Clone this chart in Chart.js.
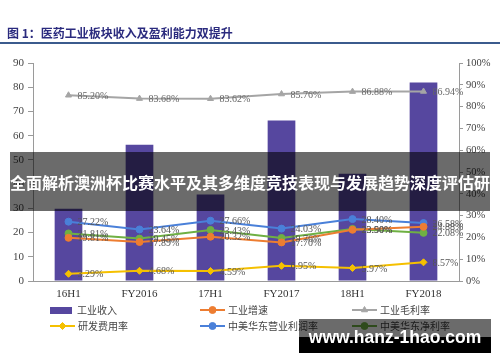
<!DOCTYPE html>
<html>
<head>
<meta charset="utf-8">
<script src="https://cdn.jsdelivr.net/npm/chart.js@4.4.0/dist/chart.umd.min.js"></script>
<style>
html, body { margin: 0; padding: 0; background: #fff; }
#wrap { position: relative; width: 500px; height: 362px; overflow: hidden; }
#myChart { position: absolute; left: 0; top: 0; }
#title { position: absolute; left: 7px; top: 24px; font: bold 12px "Noto Sans CJK SC"; color: #2a2a7e; white-space: nowrap; }
#rule { position: absolute; left: 0; top: 42px; width: 500px; height: 2px; background: #3b5b8d; }
#banner { position: absolute; left: 10px; top: 152px; width: 480px; height: 59px; background: rgba(0,0,0,0.58);
  color: #fff; font: bold 16px "Noto Sans CJK SC"; line-height: 61px; white-space: nowrap; overflow: hidden; }
#mark { position: absolute; left: 299px; top: 319px; width: 192px; height: 34px;
  background: linear-gradient(to bottom, rgba(0,0,0,0.58) 0, rgba(0,0,0,0.58) 52%, #000 52%, #000 100%);
  color: #fff; font: bold 17.5px "Liberation Sans"; line-height: 36px; text-align: center; white-space: nowrap; }
</style>
</head>
<body>
<div id="wrap">
  <canvas id="myChart" width="500" height="362"></canvas>
  <div id="title">图 1：医药工业板块收入及盈利能力双提升</div>
  <div id="rule"></div>
  <div id="banner">全面解析澳洲杯比赛水平及其多维度竞技表现与发展趋势深度评估研</div>
  <div id="mark">www.hanz-1hao.com</div>
</div>
<script>
const categories = ['16H1', 'FY2016', '17H1', 'FY2017', '18H1', 'FY2018'];
const revenue = [29.8, 56.3, 35.7, 66.3, 44.3, 82.0];        // 工业收入, left axis
const growth = [19.81, 17.89, 20.32, 17.70, 23.50, 24.88];    // 工业增速, %
const grossMargin = [85.20, 83.68, 83.62, 85.76, 86.88, 86.94];
const rdRatio = [3.29, 4.68, 4.59, 6.95, 5.97, 8.57];
const opMargin = [27.22, 23.64, 27.66, 24.03, 28.40, 26.58];
const netMargin = [21.81, 19.45, 23.43, 19.76, 23.90, 22.08];
const leftMax = 90;
const rightMax = 100;

const serif = 'Liberation Serif';

// labels to the right of every line point
const pointLabels = {
	id: 'pointLabels',
	afterDatasetsDraw: (chart) => {
		const ctx = chart.ctx;
		ctx.save();
		ctx.font = '10px "' + serif + '"';
		ctx.textBaseline = 'middle';
		chart.data.datasets.forEach((ds, i) => {
			if (ds.type !== 'line') return;
			ctx.fillStyle = ds.labelColor;
			chart.getDatasetMeta(i).data.forEach((pt, j) => {
				ctx.fillText(ds.data[j].toFixed(2) + '%', pt.x + 9, pt.y + 1);
			});
		});
		ctx.restore();
	}
};

// legend in 3 columns x 2 rows
const legendCols = [50, 200, 352];
const legendRows = [310, 326];
const gridLegend = {
	id: 'gridLegend',
	afterDraw: (chart) => {
		const ctx = chart.ctx;
		ctx.save();
		chart.data.datasets.forEach((ds, i) => {
			const x = legendCols[i % 3];
			const y = legendRows[Math.floor(i / 3)];
			let tx;
			if (ds.type === 'bar') {
				ctx.fillStyle = ds.backgroundColor;
				ctx.fillRect(x, y - 3, 22, 7);
				tx = x + 27;
			} else {
				ctx.strokeStyle = ds.borderColor;
				ctx.lineWidth = 2;
				ctx.beginPath();
				ctx.moveTo(x, y);
				ctx.lineTo(x + 25, y);
				ctx.stroke();
				ctx.fillStyle = ds.borderColor;
				ctx.lineWidth = 1;
				Chart.helpers.drawPoint(ctx, {pointStyle: ds.pointStyle, radius: 3.5, borderWidth: 1, rotation: 0}, x + 12.5, y);
				tx = x + 28;
			}
			ctx.fillStyle = '#444';
			ctx.font = '10px "Noto Sans CJK SC"';
			ctx.textBaseline = 'middle';
			ctx.fillText(ds.label, tx, y);
		});
		ctx.restore();
	}
};

function lineSet(label, data, color, style, labelColor) {
	return {
		type: 'line',
		label: label,
		data: data,
		yAxisID: 'y1',
		borderColor: color,
		backgroundColor: color,
		borderWidth: 2,
		pointStyle: style,
		pointRadius: 3.5,
		pointBorderWidth: 1,
		labelColor: labelColor,
		tension: 0,
		order: 1
	};
}

const axisGray = '#9a9a9a';
const tickFont = {family: serif, size: 11};

new Chart(document.getElementById('myChart'), {
	data: {
		labels: categories,
		datasets: [
			{
				type: 'bar',
				label: '工业收入',
				data: revenue,
				yAxisID: 'y',
				backgroundColor: '#56479f',
				categoryPercentage: 1,
				barPercentage: 0.39,
				order: 10
			},
			lineSet('工业增速', growth, '#ed7d31', 'circle', '#555'),
			lineSet('工业毛利率', grossMargin, '#a5a5a5', 'triangle', '#666'),
			lineSet('研发费用率', rdRatio, '#f5c000', 'rectRot', '#555'),
			lineSet('中美华东营业利润率', opMargin, '#4a80d9', 'circle', '#555'),
			lineSet('中美华东净利率', netMargin, '#6fb043', 'circle', '#555')
		]
	},
	options: {
		responsive: false,
		animation: false,
		devicePixelRatio: 1,
		layout: {padding: {top: 63, bottom: 59, left: 0, right: 0}},
		plugins: {
			legend: {display: false},
			tooltip: {enabled: false}
		},
		scales: {
			x: {
				grid: {display: false, drawTicks: false},
				border: {display: true, color: axisGray},
				ticks: {color: '#333', font: tickFont, padding: 7},
				afterFit: (s) => { s.height = 22; }
			},
			y: {
				position: 'left',
				min: 0,
				max: leftMax,
				ticks: {stepSize: 10, color: '#444', font: tickFont, padding: 4},
				grid: {drawOnChartArea: false, tickLength: 5, color: axisGray},
				border: {color: axisGray},
				afterFit: (s) => { s.width = 33; }
			},
			y1: {
				position: 'right',
				min: 0,
				max: rightMax,
				ticks: {stepSize: 10, color: '#444', font: {family: serif, size: 10.5}, padding: 3, callback: (v) => v + '%'},
				grid: {drawOnChartArea: false, tickLength: 4, color: axisGray},
				border: {color: axisGray},
				afterFit: (s) => { s.width = 41; }
			}
		}
	},
	plugins: [pointLabels, gridLegend]
});
</script>
</body>
</html>
